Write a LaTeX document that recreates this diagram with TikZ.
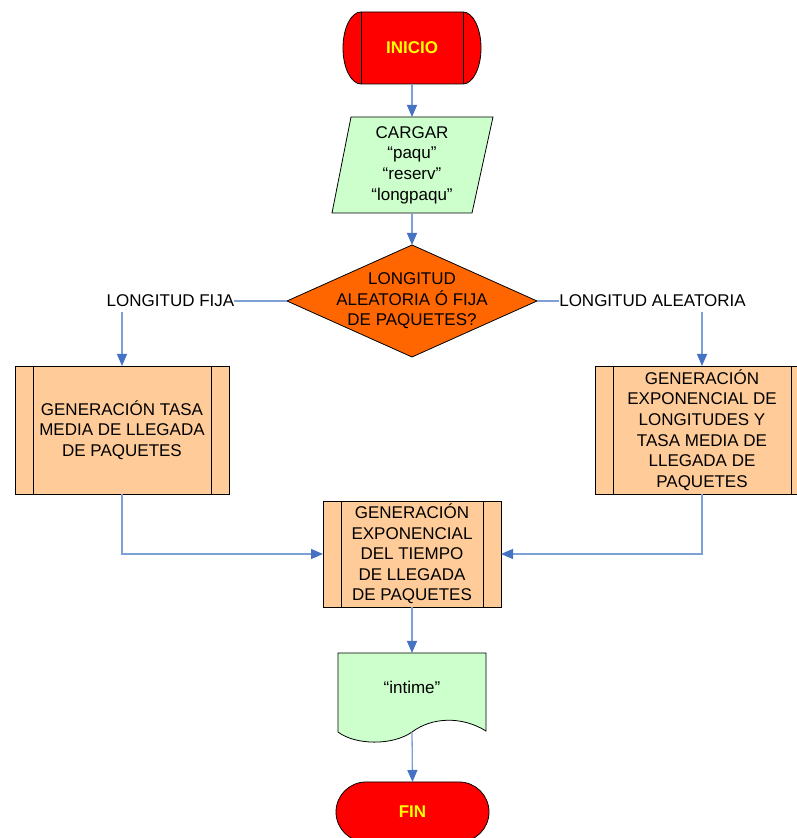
\documentclass[tikz,border=0pt]{standalone}
\usepackage{fontspec}
\setmainfont{Liberation Sans}
\usetikzlibrary{arrows.meta,shapes.geometric}
\definecolor{redc}{HTML}{FF0000}
\definecolor{yelc}{HTML}{FFFF00}
\definecolor{orangec}{HTML}{FF6600}
\definecolor{boxc}{HTML}{FFCC99}
\definecolor{greenc}{HTML}{CCFFCC}
\definecolor{linec}{RGB}{125,160,215}
\definecolor{tipc}{RGB}{70,114,196}
\begin{document}
\begin{tikzpicture}[x=1pt,y=1pt,
  txt/.style={font=\fontsize{17}{20.6}\selectfont, align=center, inner sep=0pt, outer sep=0pt},
  boldtxt/.style={txt, font=\fontsize{17}{20.6}\selectfont\bfseries, text=yelc},
  outline/.style={draw=black, line width=0.8pt},
  conn/.style={draw=linec, line width=1.3pt},
  arr/.style={conn, -{Triangle[width=10pt,length=12pt,color=tipc]}},
  procbox/.style={outline, fill=boxc, txt,
    path picture={
      \draw[line width=0.8pt] ([xshift=18pt]path picture bounding box.north west) -- ([xshift=18pt]path picture bounding box.south west);
      \draw[line width=0.8pt] ([xshift=-18pt]path picture bounding box.north east) -- ([xshift=-18pt]path picture bounding box.south east);
    }}
]
\useasboundingbox (0,0) rectangle (797,838);
\clip (0,0) rectangle (797,838);

% INICIO
\draw[outline, fill=redc] (361,826) -- (463,826) arc[start angle=90,end angle=-90,x radius=18,y radius=36] -- (361,754) arc[start angle=270,end angle=90,x radius=18,y radius=36] -- cycle;
\draw[outline] (361,826) -- (361,754) (463,826) -- (463,754);
\node[boldtxt, minimum width=137pt, minimum height=72pt] (inicio) at (412,790) {INICIO};

% CARGAR
\draw[outline, fill=greenc] (351,721) -- (493,721) -- (472,625) -- (332,625) -- cycle;
\node[txt, minimum height=96pt] (cargar) at (412,673) {CARGAR\\“paqu”\\“reserv”\\“longpaqu”};

% decision
\node[diamond, outline, fill=orangec, minimum width=250pt, minimum height=112pt, inner sep=0pt, outer sep=0pt] (dec) at (412,537) {};
\node[txt] (dectext) at (412,537) {LONGITUD\\ALEATORIA Ó FIJA\\DE PAQUETES?};

% branch labels
\node[txt] (lfija) at (170.5,537) {LONGITUD FIJA};
\node[txt] (lalea) at (652.5,537) {LONGITUD ALEATORIA};
\coordinate (fijad) at (122,526);
\coordinate (alead) at (702,526);

% process boxes
\node[procbox, minimum width=214pt, minimum height=128pt] (lbox) at (122,408) {GENERACIÓN TASA\\MEDIA DE LLEGADA\\DE PAQUETES};
\node[procbox, minimum width=214pt, minimum height=128pt] (rbox) at (702,408) {GENERACIÓN\\EXPONENCIAL DE\\LONGITUDES Y\\TASA MEDIA DE\\LLEGADA DE\\PAQUETES};
\node[procbox, minimum width=178pt, minimum height=106pt] (mbox) at (412,284) {GENERACIÓN\\EXPONENCIAL\\DEL TIEMPO\\DE LLEGADA\\DE PAQUETES};

% document
\draw[outline, fill=greenc] (338,185) -- (486,185) -- (486,107) .. controls (462,122) and (432,121) .. (412,106) .. controls (392,92) and (355,93) .. (338,106) -- cycle;
\node[minimum width=148pt, minimum height=79pt, inner sep=0pt, outer sep=0pt] (doc) at (412,145.5) {};
\node[txt] (doctext) at (412,151) {“intime”};

% FIN
\node[outline, fill=redc, rounded corners=30pt, minimum width=153pt, minimum height=60pt, boldtxt] (fin) at (412.5,26) {FIN};

% connectors
\draw[arr] (inicio.south) -- (cargar.north);
\draw[arr] (cargar.south) -- (dec.north);
\draw[conn] (dec.west) -- (lfija.east);
\draw[conn] (dec.east) -- (lalea.west);
\draw[arr] (fijad) -- (lbox.north);
\draw[arr] (alead) -- (rbox.north);
\draw[arr] (lbox.south) |- (mbox.west);
\draw[arr] (rbox.south) |- (mbox.east);
\draw[arr] (mbox.south) -- (doc.north);
\draw[arr] (doc.south) -- (fin.north);
\end{tikzpicture}
\end{document}
